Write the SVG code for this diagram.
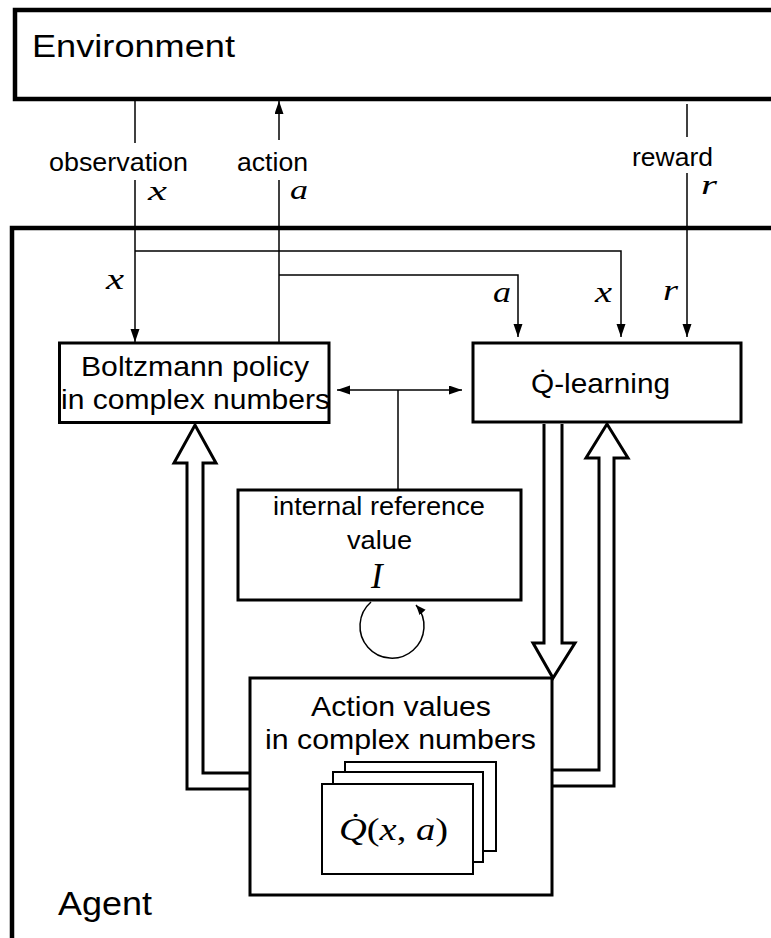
<svg xmlns="http://www.w3.org/2000/svg" width="771" height="938" viewBox="0 0 771 938">
<defs>
<style>
.big{fill:#fff;stroke:#000;stroke-width:4.5}
.box{fill:#fff;stroke:#000;stroke-width:3}
.card{fill:#fff;stroke:#000;stroke-width:2}
.ln{fill:none;stroke:#000;stroke-width:1.5}
.blk{fill:none;stroke:#000;stroke-width:3;stroke-linejoin:miter}
.sans{font-family:"Liberation Sans",Arial,sans-serif;fill:#000}
.math{font-family:"Liberation Serif","Times New Roman",serif;font-style:italic;fill:#000}
.up{font-style:normal}
</style>
<marker id="ah" markerUnits="userSpaceOnUse" markerWidth="14" markerHeight="10" refX="13" refY="4.5" orient="auto">
<path d="M0,0 L13,4.5 L0,9 z" fill="#000"/>
</marker>
<marker id="ahs" markerUnits="userSpaceOnUse" markerWidth="12" markerHeight="9" refX="10" refY="4" orient="auto">
<path d="M0,0 L10,4 L0,8 z" fill="#000"/>
</marker>
</defs>
<rect width="771" height="938" fill="#fff"/>

<g id="environment">
<rect class="big" x="15" y="10" width="800" height="89"/>
<text class="sans" x="32" y="57" font-size="31" textLength="203" lengthAdjust="spacingAndGlyphs">Environment</text>
</g>

<g id="agent">
<rect class="big" x="12" y="228" width="800" height="800"/>
<text class="sans" x="58" y="915" font-size="34" textLength="94" lengthAdjust="spacingAndGlyphs">Agent</text>
</g>

<g id="boltzmann">
<rect class="box" x="59.5" y="343" width="269.5" height="79.5"/>
<text class="sans" x="81" y="376" font-size="28" textLength="228" lengthAdjust="spacingAndGlyphs">Boltzmann policy</text>
<text class="sans" x="61" y="409" font-size="28" textLength="269" lengthAdjust="spacingAndGlyphs">in complex numbers</text>
</g>

<g id="qlearning">
<rect class="box" x="473" y="343" width="268" height="79"/>
<text class="sans" x="531" y="393" font-size="28" textLength="139" lengthAdjust="spacingAndGlyphs">Q̇-learning</text>
</g>

<g id="internal-reference">
<rect class="box" x="238" y="490" width="283" height="110"/>
<text class="sans" x="273" y="515" font-size="25" textLength="212" lengthAdjust="spacingAndGlyphs">internal reference</text>
<text class="sans" x="347" y="549" font-size="25" textLength="65" lengthAdjust="spacingAndGlyphs">value</text>
<text class="math" x="371" y="588" font-size="35">I</text>
</g>

<g id="action-values">
<rect class="box" x="250" y="678" width="302" height="217"/>
<text class="sans" x="311" y="716" font-size="28" textLength="180" lengthAdjust="spacingAndGlyphs">Action values</text>
<text class="sans" x="265" y="749" font-size="28" textLength="271" lengthAdjust="spacingAndGlyphs">in complex numbers</text>
<rect class="card" x="345" y="762" width="151" height="89"/>
<rect class="card" x="333" y="772" width="150" height="90"/>
<rect class="card" x="322" y="784" width="151" height="90"/>
<text class="math" x="339" y="840" font-size="31" textLength="109" lengthAdjust="spacingAndGlyphs">Q̇<tspan class="up">(</tspan>x<tspan class="up">, </tspan>a<tspan class="up">)</tspan></text>
</g>

<g id="connectors">
<!-- observation -->
<line class="ln" x1="135" y1="101" x2="135" y2="143"/>
<line class="ln" x1="135" y1="180" x2="135" y2="342" marker-end="url(#ah)"/>
<text class="sans" x="49" y="171" font-size="25" textLength="139" lengthAdjust="spacingAndGlyphs">observation</text>
<text class="math" x="148" y="200" font-size="28" textLength="19" lengthAdjust="spacingAndGlyphs">x</text>
<!-- action -->
<line class="ln" x1="279" y1="342" x2="279" y2="180"/>
<line class="ln" x1="279" y1="140" x2="279" y2="101" marker-end="url(#ah)"/>
<text class="sans" x="237" y="171" font-size="25" textLength="71" lengthAdjust="spacingAndGlyphs">action</text>
<text class="math" x="290" y="199" font-size="28" textLength="18" lengthAdjust="spacingAndGlyphs">a</text>
<!-- reward -->
<line class="ln" x1="687" y1="104" x2="687" y2="137"/>
<line class="ln" x1="687" y1="173" x2="687" y2="337" marker-end="url(#ah)"/>
<text class="sans" x="632" y="166" font-size="25" textLength="81" lengthAdjust="spacingAndGlyphs">reward</text>
<text class="math" x="701" y="194" font-size="28" textLength="16" lengthAdjust="spacingAndGlyphs">r</text>
<!-- x to Q-learning -->
<polyline class="ln" points="135,251 621,251 621,337" marker-end="url(#ah)"/>
<!-- a to Q-learning -->
<polyline class="ln" points="279,275 518,275 518,337" marker-end="url(#ah)"/>
<text class="math" x="106" y="289" font-size="29" textLength="18" lengthAdjust="spacingAndGlyphs">x</text>
<text class="math" x="493" y="302" font-size="29" textLength="18" lengthAdjust="spacingAndGlyphs">a</text>
<text class="math" x="595" y="302" font-size="29" textLength="17" lengthAdjust="spacingAndGlyphs">x</text>
<text class="math" x="663" y="300" font-size="29" textLength="15" lengthAdjust="spacingAndGlyphs">r</text>
<!-- internal reference to both -->
<line class="ln" x1="398" y1="390" x2="337" y2="390" marker-end="url(#ah)"/>
<line class="ln" x1="398" y1="390" x2="462" y2="390" marker-end="url(#ah)"/>
<line class="ln" x1="398" y1="390" x2="398" y2="489"/>
<!-- self loop -->
<path class="ln" d="M 371 602 A 32 32 0 1 0 416 605" marker-end="url(#ahs)"/>
<!-- block arrows -->
<path class="blk" d="M 249 789 L 187 789 L 187 463 L 174 463 L 195 425 L 216 463 L 203 463 L 203 773 L 249 773"/>
<path class="blk" d="M 544 424 L 544 643 L 533 643 L 553 678 L 575 643 L 562 643 L 562 424"/>
<path class="blk" d="M 553 786 L 614 786 L 614 458 L 628 458 L 607 424 L 586 458 L 599 458 L 599 770 L 553 770"/>
</g>
</svg>
